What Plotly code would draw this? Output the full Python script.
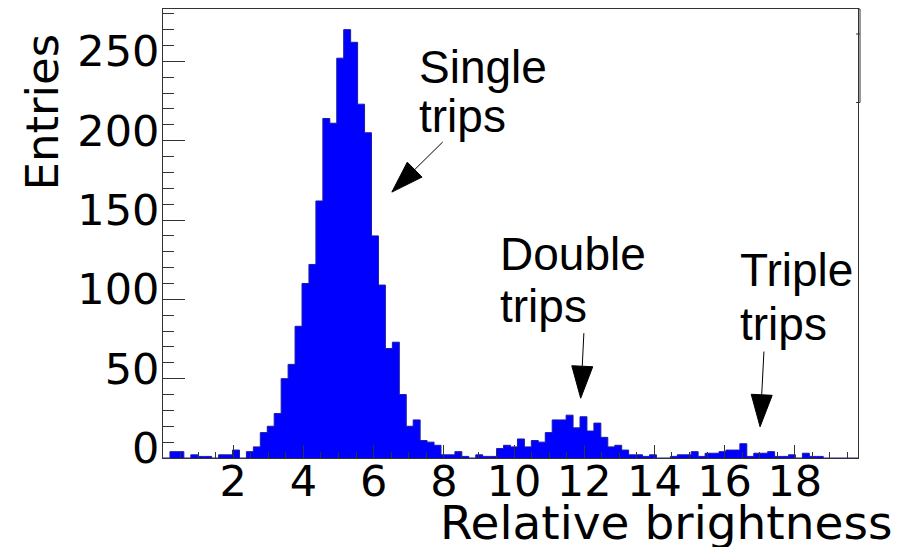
import math
import numpy as np
import plotly.graph_objects as go

# ---------------- data ----------------
bin_width = 0.198
n_bins = 100
counts = [
    0, 4, 4, 0, 2, 1, 1, 0, 2, 2,
    5, 0, 4, 7, 16, 20, 28, 50, 59, 83,
    110, 122, 162, 214, 211, 252, 270, 262, 223, 205,
    140, 109, 69, 73, 40, 20, 24, 11, 10, 8,
    2, 2, 4, 1, 0, 2, 1, 1, 6, 8,
    7, 12, 7, 11, 10, 16, 24, 24, 27, 19,
    26, 17, 22, 13, 7, 8, 5, 2, 2, 1,
    2, 0, 0, 1, 2, 2, 4, 1, 3, 3,
    4, 5, 5, 9, 1, 3, 3, 4, 1, 1,
    2, 0, 3, 1, 1, 0, 0, 0, 0, 0,
]
x_tick_vals = [2, 4, 6, 8, 10, 12, 14, 16, 18]
y_tick_vals = [0, 50, 100, 150, 200, 250]
x_title = "Relative brightness"
y_title = "Entries"

labels = [
    ("Single", "trips"),
    ("Double", "trips"),
    ("Triple", "trips"),
]
label_x = [7.24, 9.54, 16.38]
label_y1 = [246.2, 128.6, 118.5]
label_y2 = [215.7, 96.0, 84.5]
arrow_tail = [(7.97, 199.2), (11.99, 78.7), (17.12, 67.1)]
arrow_tip = [(6.52, 167.6), (11.90, 37.7), (17.01, 19.7)]

# ---------------- layout geometry ----------------
W, H = 914, 547
ml, mr, mt, mb = 163, 56, 9, 89
xr = [0, n_bins * bin_width]
yr = [0, 283]
px_x = (W - ml - mr) / (xr[1] - xr[0])
px_y = (H - mt - mb) / (yr[1] - yr[0])

edges = np.arange(n_bins + 1) * bin_width
y_step = counts + [counts[-1]]

fig = go.Figure()
fig.add_trace(go.Scatter(
    x=edges, y=y_step, mode="lines",
    line=dict(shape="hv", color="#1c1ca8", width=1),
    fill="tozeroy", fillcolor="#0000ff", hoverinfo="skip",
))

axcol = "#333333"
fig.update_layout(
    width=W, height=H,
    margin=dict(l=ml, r=mr, t=mt, b=mb, pad=0),
    plot_bgcolor="white", paper_bgcolor="white",
    showlegend=False,
)
fig.update_xaxes(
    range=xr, tickmode="array", tickvals=x_tick_vals,
    ticktext=[str(v) for v in x_tick_vals],
    ticks="inside", ticklen=13, tickwidth=1, tickcolor=axcol,
    showline=True, linecolor=axcol, linewidth=1, mirror=True,
    showgrid=False, zeroline=False,
    tickfont=dict(family="DejaVu Sans", size=43, color="black"),
    ticklabelstandoff=-15,
    minor=dict(tickmode="linear", tick0=0, dtick=0.5, ticks="inside",
               ticklen=6, tickcolor=axcol, tickwidth=1, showgrid=False),
)
fig.update_yaxes(
    range=yr, tickmode="array", tickvals=y_tick_vals,
    ticktext=[str(v) for v in y_tick_vals],
    ticks="inside", ticklen=22, tickwidth=1, tickcolor=axcol,
    showline=True, linecolor=axcol, linewidth=1, mirror=True,
    showgrid=False, zeroline=False,
    tickfont=dict(family="DejaVu Sans", size=43, color="black"),
    ticklabelshift=-10, ticklabelstandoff=-6,
    minor=dict(tickmode="linear", tick0=0, dtick=10, ticks="inside",
               ticklen=11, tickcolor=axcol, tickwidth=1, showgrid=False),
)

annots = []
annots.append(dict(text=y_title, textangle=-90, xref="paper", yref="paper",
                   x=(42 - ml) / (W - ml - mr), y=(H - mb - 112.5) / (H - mt - mb),
                   xanchor="center", yanchor="middle", showarrow=False,
                   font=dict(family="DejaVu Sans", size=45, color="black")))
annots.append(dict(text=x_title, xref="paper", yref="paper",
                   x=(894 - ml) / (W - ml - mr), y=(H - mb - 522) / (H - mt - mb),
                   xanchor="right", yanchor="middle", showarrow=False,
                   font=dict(family="DejaVu Sans", size=47, color="black")))
for (l1, l2), lx, y1, y2 in zip(labels, label_x, label_y1, label_y2):
    for t, yy in ((l1, y1), (l2, y2)):
        annots.append(dict(text=t, x=lx, y=yy, xref="x", yref="y",
                           xanchor="left", yanchor="middle", showarrow=False,
                           font=dict(family="Liberation Sans", size=46, color="black")))
fig.update_layout(annotations=annots)

shapes = []
L_head, hw = 32, 10.5
for (tx, ty), (hx, hy) in zip(arrow_tail, arrow_tip):
    dxp = (hx - tx) * px_x
    dyp = (hy - ty) * px_y
    d = math.hypot(dxp, dyp)
    ux, uy = dxp / d, dyp / d
    bx, by = -L_head * ux, -L_head * uy
    nx, ny = -uy, ux
    c1 = (hx + (bx + hw * nx) / px_x, hy + (by + hw * ny) / px_y)
    c2 = (hx + (bx - hw * nx) / px_x, hy + (by - hw * ny) / px_y)
    bc = (hx + bx / px_x, hy + by / px_y)
    shapes.append(dict(type="line", xref="x", yref="y", x0=tx, y0=ty, x1=bc[0], y1=bc[1],
                       line=dict(color="black", width=1)))
    shapes.append(dict(type="path", xref="x", yref="y",
                       path=f"M {hx},{hy} L {c1[0]},{c1[1]} L {c2[0]},{c2[1]} Z",
                       fillcolor="black", line=dict(color="black", width=1)))

pw, ph = W - ml - mr, H - mt - mb
def pxp(px, py):
    return (px - ml) / pw, (H - mb - py) / ph
x860, _ = pxp(860, 0)
x856, _ = pxp(856, 0)
_, yb = pxp(0, 102.5)
_, yt = pxp(0, 9)
_, ym = pxp(0, 34)
shapes.append(dict(type="line", xref="paper", yref="paper", x0=x860, x1=x860, y0=yb, y1=yt,
                   line=dict(color=axcol, width=1)))
for yy in (yb, ym):
    shapes.append(dict(type="line", xref="paper", yref="paper", x0=x856, x1=x860, y0=yy, y1=yy,
                       line=dict(color=axcol, width=1)))
shapes.append(dict(type="line", xref="paper", yref="paper", x0=1, x1=x860, y0=yt, y1=yt,
                   line=dict(color=axcol, width=1)))
fig.update_layout(shapes=shapes)

fig.write_html("out.html")
